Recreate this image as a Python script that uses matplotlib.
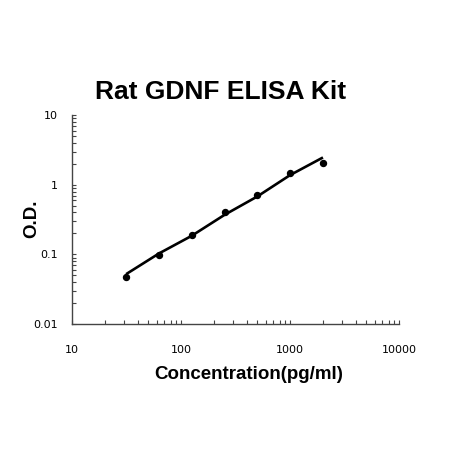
import numpy as np
import matplotlib
matplotlib.use("Agg")
import matplotlib.pyplot as plt
from matplotlib.ticker import LogLocator, FixedLocator, NullFormatter

# standard curve points
conc = [31.25, 62.5, 125, 250, 500, 1000, 2000]
od = [0.047, 0.098, 0.19, 0.40, 0.71, 1.47, 2.07]

# fitted curve
fit_conc = [31.25, 62.5, 125, 250, 500, 1000, 2000]
fit_od = [0.052, 0.103, 0.185, 0.37, 0.68, 1.38, 2.47]

xticks = [10, 100, 1000, 10000]
yticks = [0.01, 0.1, 1, 10]
xlabels = ["10", "100", "1000", "10000"]
ylabels = ["0.01", "0.1", "1", "10"]

fig = plt.figure(figsize=(4.51, 4.5), dpi=100)
ax = fig.add_axes([0.16, 0.28, 0.725, 0.464])

ax.plot(fit_conc, fit_od, color="black", lw=1.9, solid_capstyle="butt")
ax.plot(conc, od, "o", color="black", ms=4.3)

ax.set_xscale("log")
ax.set_yscale("log")
ax.set_xlim(10, 10000)
ax.set_ylim(0.01, 10)

ax.xaxis.set_major_locator(FixedLocator(xticks))
ax.yaxis.set_major_locator(FixedLocator(yticks))
ax.set_xticklabels(xlabels)
ax.set_yticklabels(ylabels)
ax.xaxis.set_minor_locator(LogLocator(base=10, subs=np.arange(2, 10)))
ax.yaxis.set_minor_locator(LogLocator(base=10, subs=np.arange(2, 10)))
ax.xaxis.set_minor_formatter(NullFormatter())
ax.yaxis.set_minor_formatter(NullFormatter())

ax.tick_params(which="both", direction="in", length=3, width=0.8, color="#444444")
ax.tick_params(axis="x", which="major", pad=15, labelsize=8)
ax.tick_params(axis="y", which="major", pad=10, labelsize=8)
for lab in ax.get_xticklabels() + ax.get_yticklabels():
    lab.set_fontfamily("DejaVu Sans")

for s in ["top", "right"]:
    ax.spines[s].set_visible(False)
for s in ["left", "bottom"]:
    ax.spines[s].set_color("#444444")
    ax.spines[s].set_linewidth(1.0)

fig.text(0.488, 0.796, "Rat GDNF ELISA Kit", ha="center", va="center",
         fontsize=19, fontweight="bold", family="Liberation Sans")
fig.text(0.552, 0.167, "Concentration(pg/ml)", ha="center", va="center",
         fontsize=13.5, fontweight="bold", family="Liberation Sans")
fig.text(0.07, 0.515, "O.D.", ha="center", va="center", rotation=90,
         fontsize=13.5, fontweight="bold", family="Liberation Sans")

fig.savefig("out.png", dpi=100)
